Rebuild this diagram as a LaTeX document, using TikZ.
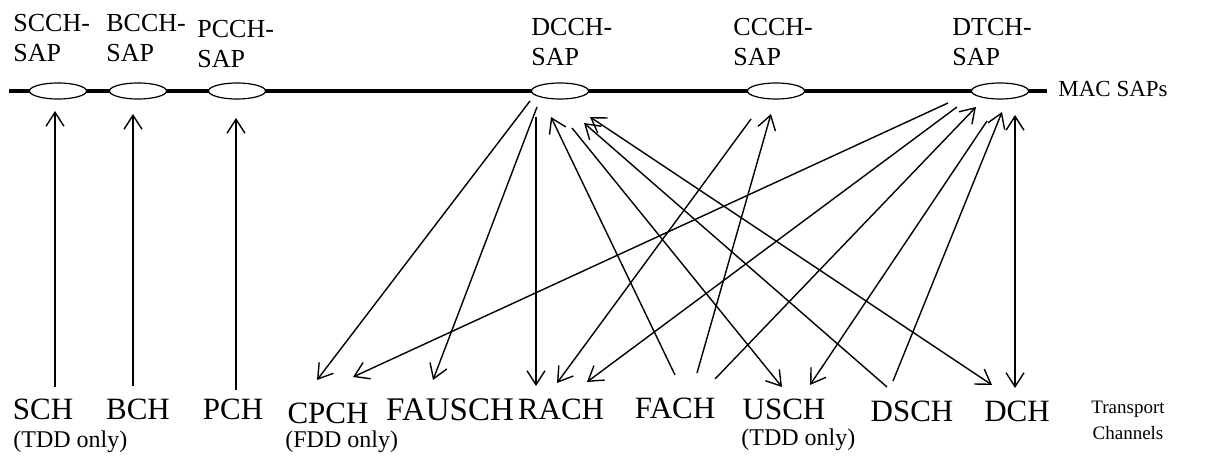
\documentclass[tikz,border=0pt]{standalone}
\usepackage{fontspec}
\setmainfont{Liberation Serif}
\usetikzlibrary{shapes.geometric,arrows.meta}

\tikzset{
  sap/.style={ellipse,draw,fill=white,line width=0.6pt,minimum width=28.5pt,minimum height=8pt,inner sep=0pt},
  saplabel/.style={anchor=north west,align=left,inner sep=0pt,font=\fontsize{13}{15}\selectfont},
  chan/.style={anchor=base,inner sep=0pt,font=\fontsize{15.5}{18}\selectfont},
  note/.style={anchor=base west,inner sep=0pt,font=\fontsize{12}{14}\selectfont},
  link/.style={line width=0.7pt,-{Straight Barb[length=7pt,width=9pt]}},
  duplex/.style={line width=0.7pt,{Straight Barb[length=7pt,width=9pt]}-{Straight Barb[length=7pt,width=9pt]}}
}

\begin{document}
\begin{tikzpicture}[x=0.5pt,y=-0.5pt]
    \useasboundingbox(0,0)rectangle(1208,459);

    % the MAC SAP bar
    \coordinate(barL)at(9,91);
    \coordinate(barR)at(1047,91);
    \draw[line width=2pt](barL)--(barR);

    \node[sap](scch)at(58,91){};
    \node[sap](bcch)at(138,91){};
    \node[sap](pcch)at(237,91){};
    \node[sap](dcch)at(560,91){};
    \node[sap](ccch)at(776,91){};
    \node[sap](dtch)at(1000,91){};

    \node[saplabel](scchlbl)at(13,14){SCCH-\\SAP};
    \node[saplabel](bcchlbl)at(106,14){BCCH-\\SAP};
    \node[saplabel](pcchlbl)at(197,20){PCCH-\\SAP};
    \node[saplabel](dcchlbl)at(531,18){DCCH-\\SAP};
    \node[saplabel](ccchlbl)at(733,18){CCCH-\\SAP};
    \node[saplabel](dtchlbl)at(952,18){DTCH-\\SAP};
    \node[anchor=base west,inner sep=0pt,font=\fontsize{11.5}{14}\selectfont](macsaps)at(1058,97){MAC SAPs};

    % transport channels
    \node[chan](sch)at(43,419){SCH};
    \node[chan](bch)at(138,419){BCH};
    \node[chan](pch)at(233,419){PCH};
    \node[chan](cpch)at(328,423){CPCH};
    \node[chan,font=\fontsize{16.5}{19}\selectfont](fausch)at(450,420){FAUSCH};
    \node[chan](rach)at(561,419){RACH};
    \node[chan](fach)at(675,418){FACH};
    \node[chan](usch)at(784,419){USCH};
    \node[chan](dsch)at(912,421){DSCH};
    \node[chan](dch)at(1017,421){DCH};

    \node[note](schnote)at(13,447){(TDD only)};
    \node[note](cpchnote)at(285,447){(FDD only)};
    \node[note](uschnote)at(741,445){(TDD only)};
    \node[anchor=north,align=center,inner sep=0pt,font=\fontsize{9.5}{13}\selectfont](trch)at(1128,401){Transport\\Channels};

    % broadcast and paging
    \draw[link]([shift={(12,-32)}]sch.base)--([shift={(-3,20)}]scch.center);
    \draw[link]([shift={(-5,-33)}]bch.base)--([shift={(-5,23)}]bcch.center);
    \draw[link]([shift={(3,-29)}]pch.base)--([shift={(-1,27)}]pcch.center);

    % DCCH
    \draw[link]([shift={(-30,10)}]dcch.center)--([shift={(-11,-43)}]cpch.base);
    \draw[link]([shift={(-23,16)}]dcch.center)--([shift={(-17,-40)}]fausch.base);
    \draw[link]([shift={(-24,26)}]dcch.center)--([shift={(-25,-33)}]rach.base);
    \draw[link]([shift={(12,37)}]dcch.center)--([shift={(-2,-32)}]usch.base);
    \draw[link]([shift={(0,-43)}]fach.base)--([shift={(-9,26)}]dcch.center);
    \draw[link]([shift={(-25,-34)}]dsch.base)--([shift={(24,32)}]dcch.center);
    \draw[duplex]([shift={(30,26)}]dcch.center)--([shift={(-25,-36)}]dch.base);

    % CCCH
    \draw[link]([shift={(-25,28)}]ccch.center)--([shift={(-4,-36)}]rach.base);
    \draw[link]([shift={(22,-45)}]fach.base)--([shift={(-5,23)}]ccch.center);

    % DTCH
    \draw[link]([shift={(-52,12)}]dtch.center)--([shift={(25,-46)}]cpch.base);
    \draw[link]([shift={(-43,16)}]dtch.center)--([shift={(26,-37)}]rach.base);
    \draw[link]([shift={(40,-39)}]fach.base)--([shift={(-24,16)}]dtch.center);
    \draw[link]([shift={(-13,30)}]dtch.center)--([shift={(26,-34)}]usch.base);
    \draw[link]([shift={(-19,-40)}]dsch.base)--([shift={(2,21)}]dtch.center);
    \draw[duplex]([shift={(15,24)}]dtch.center)--([shift={(-2,-33)}]dch.base);
\end{tikzpicture}
\end{document}
